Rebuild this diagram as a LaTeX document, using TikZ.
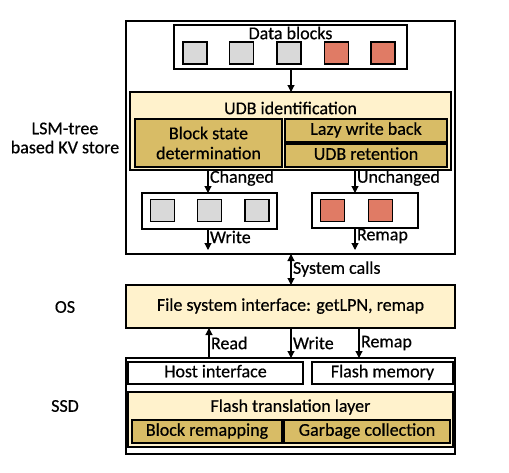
\documentclass[tikz,border=0pt]{standalone}
\usepackage{fontspec}
\setmainfont{Carlito}[FakeBold=0.5]
\usetikzlibrary{arrows.meta}
\definecolor{lyel}{HTML}{FFF2CC}
\definecolor{gold}{HTML}{D8BC66}
\definecolor{redb}{HTML}{E07B65}
\definecolor{greyb}{HTML}{D9D9D9}
\begin{document}
\begin{tikzpicture}[x=1pt,y=-1pt,
  every node/.style={font=\fontsize{18}{19}\selectfont, inner sep=0pt, outer sep=0pt},
  box/.style={draw, line width=1.2pt, fill=white},
  ybox/.style={draw, line width=1.2pt, fill=lyel},
  gbox/.style={draw, line width=1.2pt, fill=gold, align=center},
  sq/.style={draw, line width=1.2pt, minimum width=24pt, minimum height=22pt},
  fixt/.style={text height=12pt, text depth=3.5pt},
  arr/.style={line width=1.1pt, -{Triangle[width=7pt,length=7pt]}},
  darr/.style={line width=1.1pt, {Triangle[width=7pt,length=7pt]}-{Triangle[width=7pt,length=7pt]}},
  lbl/.style={anchor=west}
]
\useasboundingbox (0,0) rectangle (509,472);
% LSM
\node[box, minimum width=329pt, minimum height=233pt] (lsm) at (290.5,137.5) {};
\node[box, minimum width=233pt, minimum height=44pt] (db) at (290.5,47) {};
\node (dbt) at (290.5,33) {Data blocks};
\node[sq, fill=greyb] (s1) at (195,53) {};
\node[sq, fill=greyb] (s2) at (241.5,53) {};
\node[sq, fill=greyb] (s3) at (289,53) {};
\node[sq, fill=redb] (s4) at (336.5,53) {};
\node[sq, fill=redb] (s5) at (383,53) {};
\node[ybox, minimum width=321pt, minimum height=78pt] (udb) at (290.5,131) {};
\node (udbt) at (290.5,108) {UDB identification};
\node[gbox, minimum width=147pt, minimum height=48pt] (bsd) at (208.5,143) {Block state\\[1pt]determination};
\node[gbox, fixt, minimum width=162pt, minimum height=23pt] (lwb) at (366,130.5) {Lazy write back};
\node[gbox, fixt, minimum width=162pt, minimum height=23pt] (ret) at (366,155.5) {UDB retention};
\node[box, minimum width=135pt, minimum height=36pt] (lb) at (209.5,211) {};
\node[sq, fill=greyb] (l1) at (162.5,210.5) {};
\node[sq, fill=greyb] (l2) at (209.5,210.5) {};
\node[sq, fill=greyb] (l3) at (257,210.5) {};
\node[box, minimum width=106pt, minimum height=35pt] (rb) at (365,210.5) {};
\node[sq, fill=redb] (r1) at (332.5,210.5) {};
\node[sq, fill=redb] (r2) at (380.5,210.5) {};
\coordinate (xa) at (208,0);
\coordinate (xb) at (355,0);
\coordinate (xc) at (291,0);
\coordinate (wend) at (208,250);
\coordinate (rend) at (355,250);
\draw[arr] (db.south -| xc) -- (udb.north -| xc);
\draw[arr] (udb.south -| xa) -- (lb.north -| xa);
\draw[arr] (udb.south -| xb) -- (rb.north -| xb);
\draw[arr] (lb.south -| xa) -- (wend);
\draw[arr] (rb.south -| xb) -- (rend);
\node[lbl] (chg) at (210,178) {Changed};
\node[lbl] (unc) at (357,178) {Unchanged};
\node[lbl] (wr) at (210,237) {Write};
\node[lbl] (rm) at (357,236) {Remap};
% OS
\node[ybox, fixt, minimum width=329pt, minimum height=43pt] (fs) at (290.5,306.5) {File system interface: getLPN, remap};
\draw[darr] (lsm.south -| xc) -- (fs.north -| xc);
\node[lbl] (sc) at (293,269) {System calls};
% SSD
\node[box, minimum width=329pt, minimum height=96pt] (ssd) at (290.5,406) {};
\node[box, fixt, minimum width=175pt, minimum height=22pt] (hi) at (215.5,373) {Host interface};
\node[box, fixt, minimum width=141pt, minimum height=22pt] (fm) at (382.5,373) {Flash memory};
\node[ybox, minimum width=325pt, minimum height=55pt] (ftl) at (290.5,419.5) {};
\node (ftlt) at (290.5,407) {Flash translation layer};
\node[gbox, fixt, minimum width=150pt, minimum height=23pt] (br) at (207,431.5) {Block remapping};
\node[gbox, fixt, minimum width=166pt, minimum height=23pt] (gc) at (367,431.5) {Garbage collection};
\coordinate (xd) at (209,0);
\coordinate (xe) at (359,0);
\draw[arr] (ssd.north -| xd) -- (fs.south -| xd);
\draw[arr] (fs.south -| xc) -- (ssd.north -| xc);
\draw[arr] (fs.south -| xe) -- (ssd.north -| xe);
\node[lbl] (rd) at (211,343) {Read};
\node[lbl] (wr2) at (293,343) {Write};
\node[lbl] (rm2) at (361,343) {Remap};
% left labels
\node[align=center] (lsml) at (65,138) {LSM-tree\\based KV store};
\node (osl) at (65,307) {OS};
\node (ssdl) at (65,406) {SSD};
\end{tikzpicture}
\end{document}
